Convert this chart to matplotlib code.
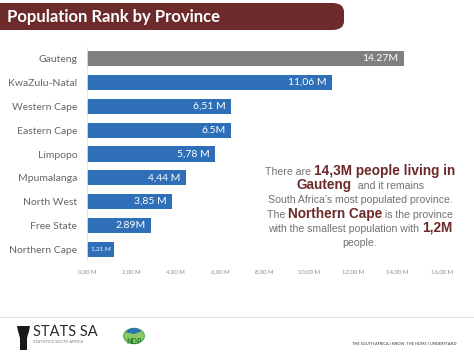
import matplotlib.pyplot as plt
from matplotlib.patches import FancyBboxPatch, Circle, Wedge, Polygon
from matplotlib.lines import Line2D

# Данные
provinces = ['Gauteng', 'KwaZulu-Natal', 'Western Cape', 'Eastern Cape', 'Limpopo',
             'Mpumalanga', 'North West', 'Free State', 'Northern Cape']
population = [14.27, 11.06, 6.51, 6.5, 5.78, 4.44, 3.85, 2.89, 1.21]
value_labels = ['14.27M', '11,06 M', '6,51 M', '6.5M', '5,78 M', '4,44 M', '3,85 M', '2.89M', '1,21 M']
tick_values = [0, 2, 4, 6, 8, 10, 12, 14, 16]
tick_labels = ['0,00 M', '2,00 M', '4,00 M', '6,00 M', '8,00 M', '10,00 M', '12,00 M', '14,00 M', '16,00 M']

W, H = 474, 355
MAROON = '#6c2a2b'
BLUE = '#2e6fb7'
GREY_BAR = '#7f7f7f'
TXT = '#727272'

fig = plt.figure(figsize=(W / 100, H / 100), dpi=100)
fig.patch.set_facecolor('white')


def fx(px):
    return px / W


def fy(py):
    return 1 - py / H


# Заголовок-баннер
banner = FancyBboxPatch((fx(-20), fy(30)), fx(364), fy(3) - fy(30),
                        boxstyle='round,pad=0,rounding_size=0.025',
                        transform=fig.transFigure, facecolor=MAROON, edgecolor='none')
fig.patches.append(banner)
fig.text(fx(7), fy(17), 'Population Rank by Province', color='white', fontsize=12,
         fontweight='bold', family='Lato', va='center', ha='left')

# Основной график
ax = fig.add_axes([fx(87), fy(261), fx(442) - fx(87), fy(47) - fy(261)])
colors = [GREY_BAR] + [BLUE] * (len(provinces) - 1)
ypos = list(range(len(provinces)))
ax.barh(ypos, population, height=0.64, color=colors)
ax.set_ylim(len(provinces) - 0.5, -0.5)
ax.set_xlim(0, 16)
ax.set_yticks(ypos)
ax.set_yticklabels(provinces, family='Lato', fontsize=7.5, color='#666666')
ax.set_xticks(tick_values)
ax.set_xticklabels(tick_labels, family='Lato', fontsize=4.3, color='#8a8a8a')
ax.tick_params(axis='both', length=0)
ax.tick_params(axis='y', pad=7)
ax.tick_params(axis='x', pad=6)
for s in ['top', 'right', 'bottom']:
    ax.spines[s].set_visible(False)
ax.spines['left'].set_color('#e6e6e6')
ax.spines['left'].set_linewidth(0.6)

for i, (v, lab) in enumerate(zip(population, value_labels)):
    if v < 2:
        ax.annotate(lab, (0, i), xytext=(3, 0), textcoords='offset points',
                    ha='left', va='center', color='white', fontsize=4.5, family='Lato')
    else:
        ax.annotate(lab, (v, i), xytext=(-4, 0), textcoords='offset points',
                    ha='right', va='center', color='white', fontsize=7.5, family='Lato')

# Текстовый блок со смешанными стилями
lines = [
    [('There are ', 'n'), ('14,3M people living in', 'b')],
    [('Gauteng', 'b'), ('  and it remains', 'n')],
    [("South Africa\u2019s most populated province.", 'n')],
    [('The ', 'n'), ('Northern Cape', 'b'), (' is the province', 'n')],
    [('with the smallest population with ', 'n'), ('1,2M', 'b')],
    [('people.', 'n')],
]
baselines = [175, 189, 203, 218, 232, 246]
cx = 360
renderer = fig.canvas.get_renderer()
for segs, by in zip(lines, baselines):
    objs = []
    for s, st in segs:
        if st == 'b':
            t = fig.text(0, fy(by), s, fontsize=9.8, fontweight='bold', color=MAROON,
                         family='Liberation Sans', va='baseline')
        else:
            t = fig.text(0, fy(by), s, fontsize=7.6, color=TXT,
                         family='Liberation Sans', va='baseline')
        objs.append(t)
    widths = [o.get_window_extent(renderer).width for o in objs]
    x = cx - sum(widths) / 2
    for o, w in zip(objs, widths):
        o.set_x(fx(x))
        x += w

# Нижний колонтитул
fig.add_artist(Line2D([0, 1], [fy(317), fy(317)], transform=fig.transFigure,
                      color='#d6e4ea', lw=0.8))
icon = Polygon([(fx(17), fy(326)), (fx(30), fy(326)), (fx(29), fy(331)), (fx(27), fy(338)),
                (fx(27), fy(350)), (fx(20), fy(350)), (fx(20), fy(338)), (fx(18), fy(331))],
               closed=True, transform=fig.transFigure, facecolor='#1a1a1a', edgecolor='none')
fig.patches.append(icon)
fig.text(fx(33), fy(336), 'STATS SA', fontsize=10.5, color='#2b2b2b', family='Lato',
         va='baseline', ha='left')
fig.text(fx(33), fy(343), 'STATISTICS SOUTH AFRICA', fontsize=2.8, color='#777777',
         family='Lato', va='baseline', ha='left')

ndp = Circle((fx(134), fy(336)), 0.022, transform=fig.transFigure,
             facecolor='#8cc965', edgecolor='#3f9a3a', lw=0.6)
fig.patches.append(ndp)
fig.patches.append(Wedge((fx(134), fy(334)), 0.017, 25, 165, transform=fig.transFigure,
                         facecolor='#2b74b8', edgecolor='none'))
fig.text(fx(134), fy(341), 'NDP', fontsize=5, color='#1f7a2e', fontweight='bold',
         family='Lato', ha='center', va='center')

fig.text(fx(457), fy(344), 'THE SOUTH AFRICA I KNOW, THE HOME I UNDERSTAND', fontsize=2.8,
         color='#333333', family='Lato', ha='right', va='baseline')

fig.savefig('out.png', dpi=100, facecolor='white')
